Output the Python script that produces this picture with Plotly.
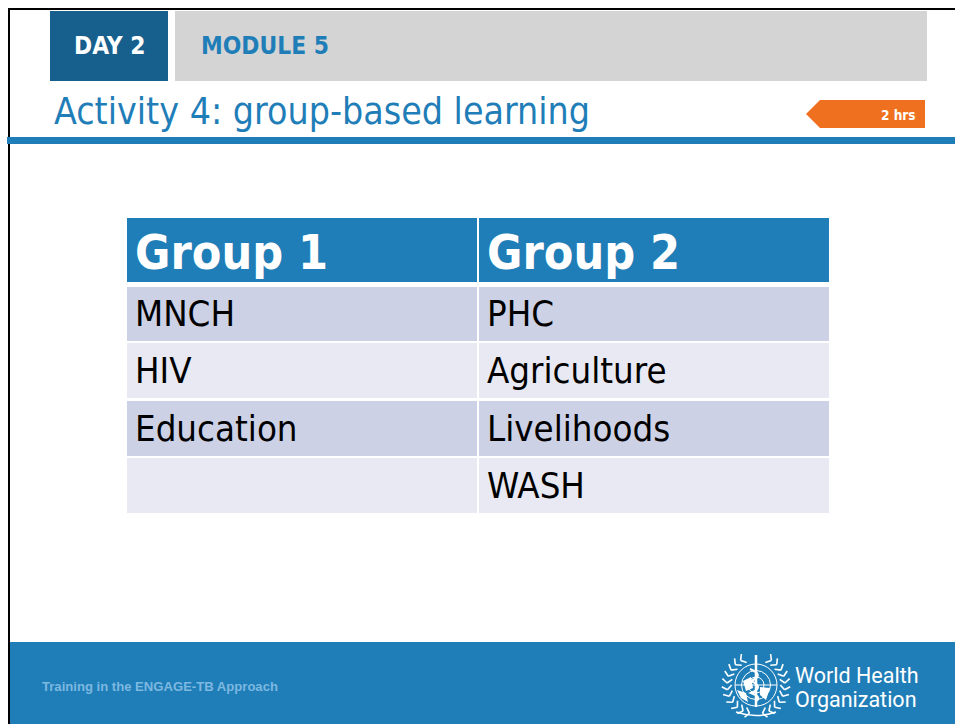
import math
import plotly.graph_objects as go

# ---- content
day_label = "DAY 2"
module_label = "MODULE 5"
title_text = "Activity 4: group-based learning"
duration_text = "2 hrs"
footer_text = "Training in the ENGAGE-TB Approach"
org_lines = ["World Health", "Organization"]
table_headers = ["Group 1", "Group 2"]
group_1 = ["MNCH", "HIV", "Education", ""]
group_2 = ["PHC", "Agriculture", "Livelihoods", "WASH"]

# ---- colours
BLUE = "#1F7EB8"
DARK_BLUE = "#17608E"
GREY = "#D4D4D4"
ORANGE = "#EF7120"
ROW_A = "#CCD1E6"
ROW_B = "#E8E9F3"
UI_FONT = "DejaVu Sans Condensed, DejaVu Sans"

shapes = []
annotations = []


def rect(x0, y0, x1, y1, color):
    shapes.append(dict(type="rect", x0=x0, y0=y0, x1=x1, y1=y1, xref="x", yref="y",
                       fillcolor=color, line=dict(width=0), layer="below"))


def path(d, fill=None, line=None, width=1):
    shapes.append(dict(type="path", path=d, xref="x", yref="y",
                       fillcolor=fill or "rgba(0,0,0,0)",
                       line=dict(color=line or "rgba(0,0,0,0)", width=width if line else 0)))


def text(x, y, s, size, color, anchor="left", bold=False, family=UI_FONT):
    annotations.append(dict(x=x, y=y, xref="x", yref="y", text=f"<b>{s}</b>" if bold else s,
                            showarrow=False, xanchor=anchor, yanchor="middle", align=anchor,
                            borderpad=0, font=dict(size=size, color=color, family=family)))


# slide frame
rect(8, 8, 955, 10, "#000000")
rect(8, 8, 10, 724, "#000000")

# header band
rect(50, 11, 168, 81, DARK_BLUE)
rect(175, 11, 927, 81, GREY)
text(73, 45.5, day_label, 24.3, "#FFFFFF", bold=True)
text(200, 45.5, module_label, 24.3, BLUE, bold=True)

# title + rule
text(53, 111, title_text, 37.2, BLUE)
rect(7, 137, 955, 144, BLUE)

# duration tag
path("M 806 114 L 820 100 L 925 100 L 925 128 L 820 128 Z", fill=ORANGE)
text(917, 115, duration_text, 13.5, "#FFFFFF", anchor="right", bold=True)

# table
col_x = [(127, 477), (479, 829)]
row_y = [(287, 341), (343, 398), (401, 456), (458, 513)]
row_fill = [ROW_A, ROW_B, ROW_A, ROW_B]
for (x0, x1), header, col in zip(col_x, table_headers, [group_1, group_2]):
    rect(x0, 218, x1, 282, BLUE)
    text(x0 + 7, 251.5, header, 48, "#FFFFFF", bold=True)
    for (y0, y1), fill, value in zip(row_y, row_fill, col):
        rect(x0, y0, x1, y1, fill)
        if value:
            text(x0 + 7, (y0 + y1) / 2 - 0.5, value, 36.3, "#000000")

# footer
rect(10, 642, 955, 724, BLUE)
text(41, 686.5, footer_text, 13.1, "#7DB8E0", bold=True, family="Liberation Sans")
text(794, 675, org_lines[0], 21.5, "#FFFFFF", family="Roboto")
text(794, 699, org_lines[1], 21.5, "#FFFFFF", family="Roboto")

# emblem (centre and radii in slide pixels)
cx, cy = 756, 685
for r in (21, 14.5, 8):
    shapes.append(dict(type="circle", x0=cx - r, x1=cx + r, y0=cy - r, y1=cy + r, xref="x", yref="y",
                       line=dict(color="#FFFFFF", width=1)))
path(f"M {cx-21} {cy} L {cx+21} {cy}", line="#FFFFFF")
path(f"M {cx} {cy-21} L {cx} {cy+21}", line="#FFFFFF")
path(f"M {cx} {cy-30} L {cx} {cy+22}", line="#FFFFFF", width=2.5)
path(f"M {cx-6} {cy-16} Q {cx+9} {cy-10} {cx-5} {cy-4} Q {cx+9} {cy+2} {cx-5} {cy+8} Q {cx+6} {cy+12} {cx} {cy+16}",
     line="#FFFFFF", width=2.2)
path(f"M {cx-13} {cy-4} L {cx-5} {cy-8} L {cx-3} {cy+3} L {cx-10} {cy+6} Z", fill="#FFFFFF")
path(f"M {cx+4} {cy+2} L {cx+14} {cy+3} L {cx+10} {cy+15} L {cx+4} {cy+10} Z", fill="#FFFFFF")
path(f"M {cx-19} {cy+5} L {cx-10} {cy+8} L {cx-8} {cy+17} L {cx-15} {cy+13} Z", fill="#FFFFFF")
for side in (-1, 1):
    for i in range(11):
        a = math.radians(-58 + i * 13.5)
        rx, ry = 29, 29
        px, py = cx + side * rx * math.cos(a), cy + ry * math.sin(a)
        tx, ty = -side * math.sin(a), math.cos(a)
        nx, ny = side * math.cos(a), math.sin(a)
        for s in (-1, 1):
            path(f"M {px:.1f} {py:.1f} L {px + 5*s*nx - 4*tx:.1f} {py + 5*s*ny - 4*ty:.1f}",
                 line="#FFFFFF", width=1.6)
path(f"M {cx-20} {cy+27} Q {cx} {cy+34} {cx+20} {cy+27}", line="#FFFFFF", width=1.5)

fig = go.Figure()
fig.update_layout(
    width=955, height=724, autosize=False,
    margin=dict(l=0, r=0, t=0, b=0),
    paper_bgcolor="#FFFFFF", plot_bgcolor="#FFFFFF",
    xaxis=dict(range=[0, 955], visible=False, fixedrange=True),
    yaxis=dict(range=[724, 0], visible=False, fixedrange=True),
    showlegend=False, shapes=shapes, annotations=annotations,
)
# the page body's default margin is removed so the figure fills the window
fig.write_html("out.html", config={"displayModeBar": False},
               post_script="document.body.style.margin='0';document.body.style.overflow='hidden';")
